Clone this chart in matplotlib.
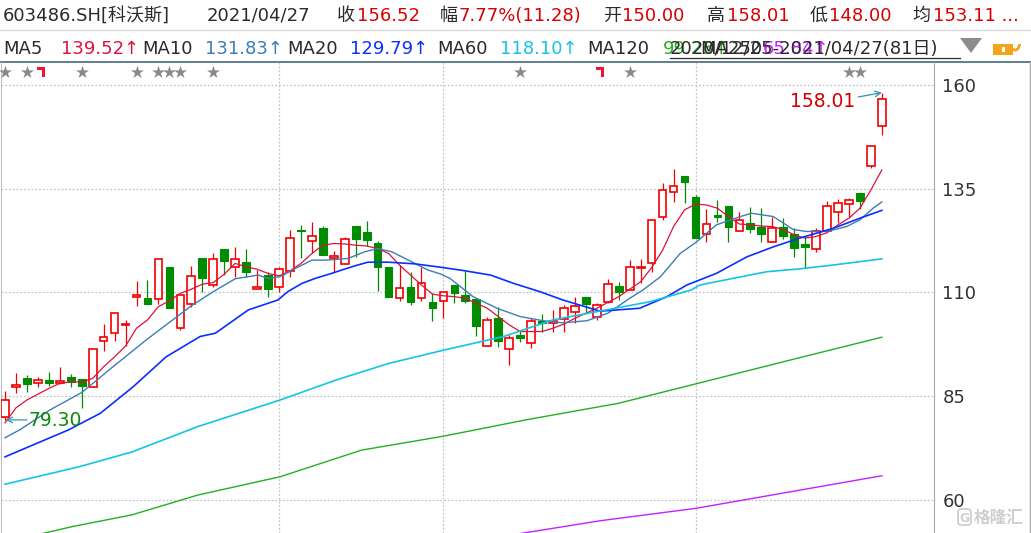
import matplotlib
matplotlib.use('Agg')
import matplotlib.pyplot as plt
import matplotlib.transforms as mtransforms
from matplotlib.patches import Rectangle, Polygon, Arc, FancyBboxPatch

# ---------------- data ----------------
opens = [80.1, 87.2, 89.5, 88.3, 88.9, 88.3, 89.6, 89.1, 87.2, 98.2,
         100.2, 102.1, 109.0, 108.6, 108.5, 116.1, 101.4, 107.2, 118.2, 111.7,
         120.5, 116.2, 117.3, 110.8, 114.1, 111.3, 115.1, 125.1, 122.3, 125.5,
         118.4, 116.8, 126.0, 124.6, 121.9, 116.1, 108.6, 111.3, 108.6, 107.7,
         107.9, 111.8, 109.4, 108.4, 97.0, 103.9, 96.3, 99.7, 97.8, 103.0,
         102.7, 103.5, 105.2, 108.8, 104.0, 107.6, 111.6, 110.6, 115.8, 117.0,
         128.1, 134.1, 138.1, 133.0, 124.0, 128.4, 130.8, 124.7, 126.7, 125.9,
         122.2, 125.9, 124.1, 121.6, 120.6, 124.8, 129.3, 131.3, 133.9, 140.4,
         150.00]
highs = [86.2, 90.5, 90.1, 89.7, 90.8, 92.0, 90.4, 89.2, 96.3, 102.4,
         105.0, 103.4, 112.8, 113.0, 118.0, 116.1, 109.3, 116.4, 118.2, 119.6,
         120.5, 120.9, 120.6, 115.4, 115.0, 116.1, 125.1, 126.3, 127.0, 126.0,
         120.0, 123.3, 126.0, 127.2, 122.4, 116.1, 116.6, 115.0, 116.1, 109.8,
         110.0, 111.8, 115.3, 108.4, 104.2, 106.6, 99.8, 101.0, 103.8, 104.8,
         105.8, 107.0, 109.0, 108.8, 107.5, 113.2, 112.6, 117.8, 118.0, 127.5,
         136.3, 139.8, 138.1, 133.5, 130.1, 132.3, 130.8, 129.3, 130.7, 130.3,
         128.3, 127.9, 125.5, 123.5, 125.5, 132.0, 132.5, 132.8, 133.9, 145.24,
         158.01]
lows = [79.30, 85.7, 86.1, 87.3, 87.5, 88.0, 87.3, 82.1, 87.2, 96.0,
        98.4, 97.1, 106.7, 107.3, 107.2, 106.3, 101.0, 106.6, 110.2, 111.3,
        114.2, 113.7, 113.8, 110.8, 109.0, 110.2, 113.8, 118.2, 119.4, 119.1,
        115.0, 116.8, 118.6, 121.2, 110.4, 108.8, 108.0, 107.0, 108.0, 103.2,
        103.8, 107.4, 107.4, 99.4, 97.0, 96.9, 92.5, 98.0, 96.7, 100.6,
        100.6, 100.4, 102.7, 105.0, 103.4, 107.4, 108.2, 110.6, 112.4, 115.0,
        127.5, 131.7, 131.5, 123.2, 122.1, 127.1, 122.2, 124.7, 124.3, 122.2,
        122.2, 122.8, 118.6, 116.0, 119.7, 124.8, 126.8, 128.3, 130.0, 139.9,
        148.00]
closes = [84.0, 87.6, 88.0, 88.9, 88.3, 88.6, 88.5, 87.5, 96.3, 99.2,
          105.0, 102.4, 109.2, 107.3, 118.0, 106.3, 109.3, 114.0, 113.6, 118.0,
          117.7, 118.0, 115.0, 111.3, 110.8, 115.6, 123.1, 124.7, 123.5, 119.1,
          118.8, 122.8, 123.0, 122.7, 116.2, 108.8, 111.0, 107.6, 112.2, 106.3,
          110.0, 109.8, 108.0, 101.9, 103.3, 98.4, 99.0, 99.0, 103.1, 102.7,
          103.2, 106.3, 106.8, 107.2, 106.9, 112.0, 110.0, 116.1, 116.2, 127.5,
          134.6, 135.7, 136.7, 123.2, 126.4, 128.2, 125.9, 127.5, 125.3, 124.0,
          125.6, 123.7, 120.8, 121.0, 124.9, 130.8, 131.6, 132.2, 132.1, 145.24,
          156.52]

ma5 = [78.6, 82.2, 84.1, 85.5, 86.9, 88.1, 88.5, 88.4, 89.3, 92.1,
       94.5, 97.1, 101.4, 103.4, 106.6, 108.0, 109.8, 110.8, 112.0, 112.4,
       114.4, 117.0, 116.2, 115.6, 114.6, 114.0, 115.2, 117.0, 119.4, 121.4,
       121.8, 121.7, 121.4, 121.2, 120.6, 119.4, 116.6, 114.2, 111.8, 109.6,
       109.2, 109.0, 108.6, 107.4, 106.2, 104.2, 102.2, 100.6, 100.6, 100.6,
       101.4, 102.4, 103.8, 105.0, 106.2, 107.6, 109.0, 110.8, 112.6, 116.0,
       120.2, 125.9, 129.9, 131.3, 131.1, 130.3, 128.3, 126.5, 126.3, 126.0,
       125.9, 125.2, 123.9, 123.1, 123.5, 124.4, 126.3, 127.9, 130.3, 134.7,
       139.52]

ma10_x = [0, 1.4, 4.1, 7.0, 9.85, 12.9, 15.7, 17.0, 19.0, 21.0, 23.1, 24.0, 25.1,
          26.5, 28.0, 29.2, 31.3, 32.8, 34.0, 35.3, 36.8, 38.6, 39.7, 40.6, 42.7,
          44.9, 47.0, 49.1, 50.9, 53.1, 55.0, 57.0, 58.2, 59.8, 61.6, 63.1, 64.9,
          67.1, 68.1, 70.1, 71.9, 73.1, 75.0, 76.8, 78.0, 79.2, 80]
ma10_y = [75.0, 77.0, 81.7, 85.9, 92.1, 98.6, 104.2, 106.8, 110.2, 113.3, 114.2, 113.4, 113.8,
          115.8, 117.8, 117.8, 118.2, 119.8, 120.6, 119.8, 117.8, 115.4, 114.5, 113.4, 109.0,
          106.2, 104.2, 103.2, 102.7, 103.2, 105.0, 108.6, 110.6, 113.8, 119.4, 122.2, 126.3,
          128.3, 129.1, 128.3, 125.2, 124.7, 124.7, 125.9, 127.5, 130.3, 131.83]

ma20_x = [0, 5.8, 8.7, 11.7, 14.7, 17.8, 19.2, 22.2, 24.9, 25.8, 27.1, 28.3, 29.8, 30.7,
          31.9, 33.1, 35.0, 37.4, 39.7, 41.8, 44.3, 46.4, 48.8, 50.9, 53.4, 54.3, 57.9,
          60.4, 62.2, 64.9, 67.7, 70.1, 72.5, 75.6, 78.0, 80]
ma20_y = [70.4, 76.9, 80.9, 87.3, 94.5, 99.4, 100.2, 105.8, 108.2, 110.2, 112.2, 113.4, 114.6, 115.4,
          116.4, 117.3, 117.3, 116.9, 116.1, 115.3, 114.2, 112.2, 110.2, 108.2, 106.2, 105.5, 106.2,
          109.0, 111.8, 114.6, 118.6, 121.0, 123.1, 125.5, 127.9, 129.79]

ma60_x = [0, 6.75, 11.6, 17.6, 25.1, 30.2, 35.0, 40.0, 45.5, 50.0, 54.0, 58.9, 62.6,
          63.4, 66.4, 69.5, 72.5, 75.5, 80]
ma60_y = [63.8, 68.0, 71.6, 77.7, 84.1, 88.9, 92.9, 96.1, 99.4, 103.4, 105.4, 107.8, 110.6,
          111.8, 113.4, 115.0, 115.7, 116.6, 118.10]

ma120_x = [2.9, 6.15, 11.55, 17.6, 25.1, 32.5, 40.05, 47.5, 55.97, 63.05, 71.6, 80]
ma120_y = [51.6, 53.6, 56.4, 61.2, 65.6, 72.0, 75.4, 79.3, 83.3, 88.0, 93.7, 99.23]

ma250_x = [46.5, 54.3, 63.05, 80]
ma250_y = [51.7, 55.0, 58.0, 65.84]

price_ticks = [60, 85, 110, 135, 160]
month_lines = [25, 40, 63]
star_idx = [0, 2, 7, 12, 14, 15, 16, 19, 47, 57, 77, 78]
flag_idx = [3, 54]

header1 = [("603486.SH[科沃斯]", 3, 'dark'), ("2021/04/27", 207, 'dark'),
           ("收", 337, 'dark'), ("156.52", 357, 'red'),
           ("幅", 440, 'dark'), ("7.77%(11.28)", 458, 'red'),
           ("开", 603, 'dark'), ("150.00", 622, 'red'),
           ("高", 707, 'dark'), ("158.01", 727, 'red'),
           ("低", 810, 'dark'), ("148.00", 829, 'red'),
           ("均", 912, 'dark'), ("153.11 ...", 933, 'red')]
header2 = [("MA5", 3, 'dark'), ("139.52↑", 61, 'ma5'),
           ("MA10", 142, 'dark'), ("131.83↑", 205, 'ma10'),
           ("MA20", 287, 'dark'), ("129.79↑", 350, 'ma20'),
           ("MA60", 437, 'dark'), ("118.10↑", 500, 'ma60'),
           ("MA120", 587, 'dark'), ("99.23↑", 663, 'ma120'),
           ("MA250", 700, 'dark'), ("65.84↑", 763, 'ma250'),
           ("2020/12/25-2021/04/27(81日)", 670, 'dark')]

# ---------------- style ----------------
W, H = 1031, 533
FAM = ['DejaVu Sans', 'Noto Sans CJK SC']
RED = '#f20000'
GREEN = '#008c00'
COL = {'dark': '#2b2b2b', 'red': '#d80000', 'ma5': '#e0103c', 'ma10': '#3d7db5',
       'ma20': '#0a30ff', 'ma60': '#14c4e4', 'ma120': '#22b022', 'ma250': '#c81eff'}
TEAL = '#2f93ad'

fig = plt.figure(figsize=(W / 100, H / 100), dpi=100)
fig.patch.set_facecolor('white')

# overlay axes in pixel coordinates for header/decoration
ov = fig.add_axes([0, 0, 1, 1], zorder=0)
ov.set_xlim(0, W)
ov.set_ylim(H, 0)
ov.axis('off')

# main price axes
ax = fig.add_axes([1 / W, 0, 933 / W, (H - 62) / H], zorder=1)
ax.set_facecolor('none')
ax.set_xlim(-0.365, 84.76)
ax.set_ylim(52.05, 165.54)

for s in ['top', 'bottom']:
    ax.spines[s].set_visible(False)
ax.spines['left'].set_color('#c0c0c0')
ax.spines['right'].set_color('#a8a8a8')
ax.set_xticks([])
ax.yaxis.tick_right()
ax.set_yticks(price_ticks)
ax.set_yticklabels([str(v) for v in price_ticks], fontsize=13, color='#333333', family=FAM)
ax.tick_params(axis='y', length=0, pad=6)

for v in price_ticks:
    ax.axhline(v, color='#c4c4c4', lw=0.9, ls=(0, (1.5, 1.5)), zorder=0)
for m in month_lines:
    ax.axvline(m, color='#c4c4c4', lw=0.9, ls=(0, (1.5, 1.5)), zorder=0)

# candles
bw = 0.70
for i, (o, h, l, c) in enumerate(zip(opens, highs, lows, closes)):
    up = c >= o
    col = RED if up else GREEN
    ax.vlines(i, l, h, color=col, lw=0.9, zorder=2)
    bot = min(o, c)
    ht = max(abs(c - o), 0.4)
    if up:
        ax.add_patch(Rectangle((i - bw / 2, bot), bw, ht, facecolor='white',
                               edgecolor=col, lw=1.2, zorder=3))
    else:
        ax.add_patch(Rectangle((i - bw / 2, bot), bw, ht, facecolor=col,
                               edgecolor=col, lw=0.8, zorder=3))

# moving averages
ax.plot(range(len(ma5)), ma5, color=COL['ma5'], lw=0.9, zorder=4)
ax.plot(ma10_x, ma10_y, color=COL['ma10'], lw=1.0, zorder=4)
ax.plot(ma20_x, ma20_y, color=COL['ma20'], lw=1.2, zorder=4)
ax.plot(ma60_x, ma60_y, color=COL['ma60'], lw=1.2, zorder=4)
ax.plot(ma120_x, ma120_y, color=COL['ma120'], lw=1.0, zorder=4)
ax.plot(ma250_x, ma250_y, color=COL['ma250'], lw=1.0, zorder=4)

# stars / flags
bt = mtransforms.blended_transform_factory(ax.transData, ax.transAxes)
ax.scatter(star_idx, [0.979] * len(star_idx), marker='*', s=95, color='#8a8a8a',
           transform=bt, zorder=5, clip_on=False, linewidths=0)
for f in flag_idx:
    pts = [(f - 0.1, 0.990), (f + 0.65, 0.990), (f + 0.65, 0.9675),
           (f + 0.38, 0.9675), (f + 0.38, 0.983), (f - 0.1, 0.983)]
    ax.add_patch(Polygon(pts, closed=True, facecolor='#ee1530', edgecolor='none',
                         transform=bt, zorder=5))

# min / max annotations
lo_i = lows.index(min(lows))
hi_i = highs.index(max(highs))
ax.annotate('', xy=(lo_i + 0.05, min(lows)), xytext=(lo_i + 2.0, min(lows)),
            arrowprops=dict(arrowstyle='->', color=TEAL, lw=0.9, shrinkA=0, shrinkB=0),
            zorder=6)
ax.text(lo_i + 2.1, min(lows) - 0.2, f"{min(lows):.2f}", color='#0b8a0b', fontsize=13.5,
        family=FAM, va='center', ha='left', zorder=6)
ax.annotate('', xy=(hi_i, max(highs) + 0.15), xytext=(hi_i - 2.15, max(highs) - 0.9),
            arrowprops=dict(arrowstyle='->', color=TEAL, lw=0.9, shrinkA=0, shrinkB=0),
            zorder=6)
ax.text(hi_i - 2.4, max(highs) - 1.9, f"{max(highs):.2f}", color='#d00000', fontsize=13.5,
        family=FAM, va='center', ha='right', zorder=6)

# ---------------- header ----------------
for txt, x, c in header1:
    ov.text(x, 20.7, txt, color=COL[c], fontsize=13, family=FAM, va='baseline', ha='left')
for txt, x, c in header2:
    ov.text(x, 54, txt, color=COL[c], fontsize=13, family=FAM, va='baseline', ha='left')
ov.plot([670, 960], [57.5, 57.5], color='#2b2b2b', lw=0.9)
ov.plot([0, W], [30, 30], color='#d8d8d8', lw=1.0)
ov.plot([0, W], [62, 62], color='#5d7d93', lw=1.4)
ov.plot([1030, 1030], [62, H], color='#a8a8a8', lw=1.0)
# dropdown triangle
ov.add_patch(Polygon([(960, 38), (982, 38), (971, 53)], closed=True, facecolor='#8c8c8c',
                     edgecolor='none'))
# lock icon
ov.add_patch(Rectangle((993, 44), 20, 11, facecolor='#f3a41c', edgecolor='none'))
ov.add_patch(Rectangle((1001.5, 47), 3, 5, facecolor='white', edgecolor='none'))
ov.add_patch(Arc((1015, 44), 9, 12, theta1=0, theta2=180, color='#f3a41c', lw=2.0))

# watermark
ov.add_patch(FancyBboxPatch((958, 509), 13, 16, boxstyle='round,pad=0,rounding_size=3',
                            facecolor='none', edgecolor='#cfcfcf', lw=1.3))
ov.text(964.5, 518, 'G', color='#cfcfcf', fontsize=9, family=FAM, ha='center', va='center',
        fontweight='bold')
ov.text(974, 518, '格隆汇', color='#cfcfcf', fontsize=12, family=['Noto Sans CJK SC'],
        ha='left', va='center', fontweight='bold')

fig.savefig('out.png', dpi=100, facecolor='white')
